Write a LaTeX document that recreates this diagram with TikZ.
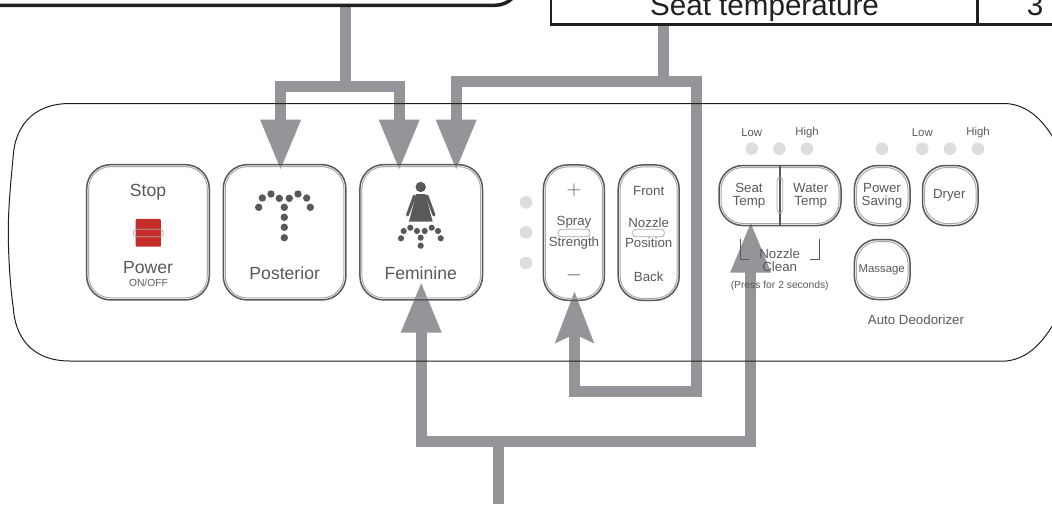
\documentclass[tikz,border=0pt]{standalone}
\usepackage{fontspec}
\setmainfont{Liberation Sans}
\usepackage{xcolor}
\usetikzlibrary{arrows.meta, positioning, backgrounds}
\definecolor{arrgray}{HTML}{939598}
\definecolor{btnline}{HTML}{58595B}
\definecolor{btnin}{HTML}{A7A9AC}
\definecolor{ledgray}{HTML}{DCDDDE}
\definecolor{ink}{HTML}{231F20}
\definecolor{stopred}{HTML}{C62D2A}
\tikzset{
  btn/.style={rectangle, rounded corners=24pt, draw=btnline, line width=1.5pt, outer sep=0pt, inner sep=0pt},
  btnbig/.style={btn, minimum width=122.6pt, minimum height=135.3pt},
  btnslim/.style={btn, minimum width=61pt, minimum height=135.3pt},
  btnsq/.style={btn, minimum width=55.6pt, minimum height=60pt, rounded corners=23pt},
  btninner/.style={rounded corners=22pt, draw=btnin, line width=1pt},
  capsule/.style={rounded corners=3pt, draw=btnin, line width=0.8pt},
  led/.style={circle, fill=ledgray, minimum size=12.6pt, inner sep=0pt},
  spot/.style={circle, fill=btnline, minimum size=7.4pt, inner sep=0pt},
  spotsm/.style={spot, minimum size=6.2pt},
  lbig/.style={text=btnline, inner sep=0pt, font=\fontsize{17.6}{18}\selectfont},
  lmid/.style={text=btnline, inner sep=0pt, align=center, font=\fontsize{13.3}{13}\selectfont},
  lsmall/.style={text=btnline, inner sep=0pt, align=center, font=\fontsize{11.4}{12}\selectfont},
  ltiny/.style={text=btnline, inner sep=0pt, font=\fontsize{10.3}{11}\selectfont},
  lsign/.style={text=btnline, inner sep=0pt, font=\fontsize{22}{22}\selectfont},
  cell/.style={rectangle, draw=ink, line width=2.5pt, outer sep=0pt},
  celltxt/.style={text=ink, inner sep=0pt, anchor=base, font=\fontsize{29.6}{30}\selectfont},
  stem/.style={draw=arrgray, line width=11pt},
  bigarr/.style={stem, -{Triangle[length=51pt,width=37.5pt]}},
  barbarr/.style={stem, -{Stealth[length=51pt,width=37pt,inset=8pt]}},
}
\begin{document}
\begin{tikzpicture}[x=1pt,y=-1pt]
\useasboundingbox (0,0) rectangle (1052,504);

% boxes above the panel
\node[rectangle, rounded corners=25pt, draw=ink, line width=3.5pt, outer sep=0pt, minimum width=600pt, minimum height=80pt] (notebox) at (220,-34.7) {};
\node[cell, minimum width=426.5pt, minimum height=70pt] (seatcell) at (764.2,-10.5) {};
\node[cell, minimum width=100pt, minimum height=70pt, right=0pt of seatcell] (numcell) {};
\node[celltxt] (seattxt) at (764.5,15) {Seat temperature};
\node[celltxt] (numtxt) at (1035,15) {3};

% panel
\draw[draw=ink, line width=1pt] (70,103.5) -- (1006,103.5) .. controls (1028,105) and (1045,120) .. (1060,150) -- (1062,232) -- (1060,312) .. controls (1045,342) and (1028,359) .. (1006,361) -- (70,361) .. controls (30,361) and (15,335) .. (13.3,308) .. controls (10,285) and (8.3,255) .. (8.3,232) .. controls (8.3,210) and (10,190) .. (13.3,155) .. controls (15,130) and (30,103.5) .. (70,103.5);

% buttons
\node[btnbig] (stop) at (148,232.3) {};
\node[btnbig, right=14pt of stop] (posterior) {};
\node[btnbig, right=14pt of posterior] (feminine) {};
\node[btnslim] (spray) at (573.9,232.6) {};
\node[btnslim, right=13.8pt of spray] (nozzle) {};
\node[btn, minimum width=122pt, minimum height=60pt] (seattemp) at (780,195.5) {};
\node[btnsq] (saving) at (882.2,195.5) {};
\node[btnsq, right=12.5pt of saving] (dryer) {};
\node[btnsq, below=14pt of saving] (massage) {};
\foreach \nm in {stop,posterior,feminine,spray,nozzle,seattemp,saving,dryer,massage}
  \draw[btninner] ([shift={(2,2)}]\nm.north west) rectangle ([shift={(-2,-2)}]\nm.south east);
\draw[draw=btnline, line width=1.4pt] (seattemp.north) -- (seattemp.south);
\draw[capsule] (776.9,177.7) rectangle (782.7,212.7);

% stop / power
\node[lbig] (stoptxt) at (148,192.5) {Stop};
\node[fill=stopred, rounded corners=1pt, minimum width=25.3pt, minimum height=27.7pt, inner sep=0pt] (powerkey) at (148.3,232.8) {};
\draw[capsule] (133.3,229.3) rectangle (163.3,236.7);
\node[lbig] (powertxt) at (148,267.2) {Power};
\node[ltiny] (onofftxt) at (148.5,282.5) {ON/OFF};

% posterior
\foreach \px/\py in {258.7/207.3,262.3/198,271/194,279.3/198.3,289.3/198.3,298/194,306.7/198,310.3/207.3,284.3/207.3,284.3/217.3,284.3/227.3,284.3/237.7}
  \node[spot] at (\px,\py) {};
\node[lbig] (posttxt) at (284.7,273.2) {Posterior};

% feminine
\fill[btnline] (420.7,187) circle (5.2);
\fill[btnline] (416,194) -- (425.4,194) -- (432.7,221.7) -- (409,221.7) -- cycle;
\draw[draw=btnline, line width=3pt, line cap=round] (414.4,196) -- (407.5,215);
\draw[draw=btnline, line width=3pt, line cap=round] (427,196) -- (434,215);
\foreach \px/\py in {401/238.3,403.7/231,410.3/227.7,417/231,424.7/231,431.7/227.7,438/231,440.7/238.3,420.7/237.7,420.7/245.7}
  \node[spotsm] at (\px,\py) {};
\node[lbig] (femtxt) at (420.7,273.2) {Feminine};

% spray strength, nozzle position
\foreach \ly in {202.3,232.3,263}
  \node[led] at (526,\ly) {};
\node[lsign] (plustxt) at (574,190) {$+$};
\node[lsign] (minustxt) at (574,275.7) {$-$};
\node[lmid] (spraytxt) at (574,232.7) {Spray\\[7.5pt]Strength};
\draw[capsule] (558.3,229.3) rectangle (590,236.7);
\node[lmid] (fronttxt) at (648.7,190.7) {Front};
\node[lmid] (noztxt) at (648.7,232.7) {Nozzle\\[7.5pt]Position};
\draw[capsule] (632.7,229.3) rectangle (664.3,236.7);
\node[lmid] (backtxt) at (648.7,276.5) {Back};

% seat, water, clean
\foreach \lx in {751.7,779.3,807,882,922.3,950,978}
  \node[led] at (\lx,148.7) {};
\node[lsmall] (lowa) at (751.7,133) {Low};
\node[lsmall] (higha) at (807,133) {High};
\node[lsmall] (lowb) at (922.3,133) {Low};
\node[lsmall] (highb) at (978,133) {High};
\node[lmid] (seattxtb) at (749,195.7) {Seat\\Temp};
\node[lmid] (watertxt) at (810.7,195.7) {Water\\Temp};
\node[lmid] (savetxt) at (882,195.7) {Power\\Saving};
\node[lmid] (dryertxt) at (949.3,195.5) {Dryer};
\node[lsmall] (masstxt) at (881.7,269.8) {Massage};
\node[lmid] (deotxt) at (916,319.5) {Auto Deodorizer};
\node[lmid] (cleantxt) at (779.7,260.7) {Nozzle\\Clean};
\node[ltiny] (presstxt) at (779.7,285.5) {(Press for 2 seconds)};
\draw[draw=btnline, line width=0.9pt] (740,239.3) -- (740,259.3) -- (749.3,259.3);
\draw[draw=btnline, line width=0.9pt] (819.3,239.3) -- (819.3,259.3) -- (810,259.3);

% connectors
\coordinate (teenote) at (345.3,86.3);
\coordinate (teeseat) at (663.7,81);
\coordinate (bendseat) at (696,81);
\coordinate (bendspray) at (696,391.5);
\coordinate (teelow) at (498.2,441);
\coordinate (footlow) at (498.2,504);
\begin{scope}[on background layer]
\draw[stem] (notebox.south -| teenote) -- (teenote);
\draw[bigarr] (teenote) -| ([shift={(-4,6)}]posterior.north);
\draw[bigarr] (teenote) -| ([shift={(-22,6)}]feminine.north);
\draw[stem] (seatcell.south -| teeseat) -- (teeseat);
\draw[bigarr] (teeseat) -| ([shift={(35,6)}]feminine.north);
\draw[barbarr] (teeseat) -- (bendseat) -- (bendspray) -| ([shift={(0.6,-9.3)}]spray.south);
\draw[stem] (footlow) -- (teelow);
\draw[bigarr] (teelow) -| ([shift={(0,-18.3)}]feminine.south);
\draw[bigarr] (teelow) -| ([shift={(-29.3,-4)}]seattemp.south);
\end{scope}
\end{tikzpicture}
\end{document}
